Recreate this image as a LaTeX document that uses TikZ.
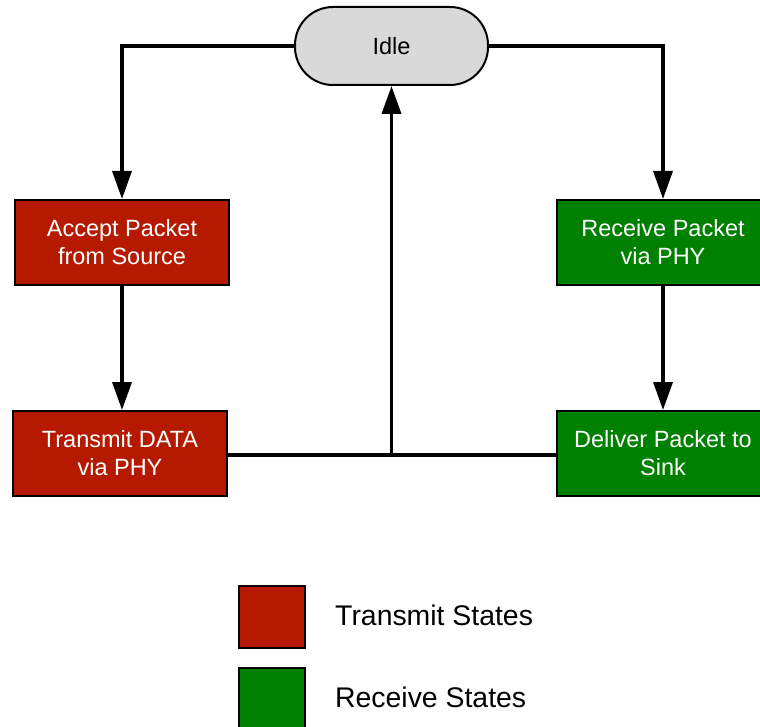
\documentclass[tikz,border=0pt]{standalone}
\usepackage{fontspec}
\setmainfont{Liberation Sans}
\usetikzlibrary{arrows.meta}
\definecolor{txred}{HTML}{B51A00}
\definecolor{rxgreen}{HTML}{008000}
\definecolor{idlegray}{HTML}{D9D9D9}
\begin{document}
\begin{tikzpicture}[x=1pt,y=-1pt,
  statebox/.style={draw=black,line width=2pt,minimum width=#1,minimum height=85pt,inner sep=0pt,text=white,font=\fontsize{23.5}{28}\selectfont,align=center},
  txbox/.style={statebox=214pt,fill=txred},
  rxbox/.style={statebox=212pt,fill=rxgreen},
  conn/.style={line width=3.5pt},
  arr/.style={conn,-{Triangle[length=28pt,width=19pt]}},
  legbox/.style={draw=black,line width=2pt,minimum width=66pt,minimum height=62pt,inner sep=0pt},
  legtext/.style={font=\fontsize{28.4}{34}\selectfont,anchor=west,inner sep=0pt}]
\useasboundingbox (0,0) rectangle (760,727);
\begin{scope}
\clip (0,0) rectangle (760,727);
\node[draw=black,line width=2pt,fill=idlegray,rounded corners=38pt,minimum width=193pt,minimum height=78pt,inner sep=0pt,font=\fontsize{23.5}{28}\selectfont] (idle) at (391.5,46) {Idle};
\node[txbox] (accept) at (122,242.5) {Accept Packet\\from Source};
\node[txbox] (transmit) at (120,453.5) {Transmit DATA\\via PHY};
\node[rxbox] (receive) at (663,242.5) {Receive Packet\\via PHY};
\node[rxbox] (deliver) at (663,453.5) {Deliver Packet to\\Sink};
\coordinate (jn) at (391.5,455);
\draw[arr] (idle.west) -| (accept.north);
\draw[arr] (idle.east) -| (receive.north);
\draw[arr] (accept.south) -- (transmit.north -| accept.south);
\draw[arr] (receive.south) -- (deliver.north -| receive.south);
\draw[conn] (transmit.east |- jn) -- (deliver.west |- jn);
\draw[arr] (jn) -- (idle.south);
\node[legbox,fill=txred] (legtx) at (271.5,617) {};
\node[legbox,fill=rxgreen,minimum height=64pt] (legrx) at (271.5,700) {};
\node[legtext] (legtxt) at (335,615) {Transmit States};
\node[legtext] (legrxt) at (335,697) {Receive States};
\end{scope}
\end{tikzpicture}
\end{document}
